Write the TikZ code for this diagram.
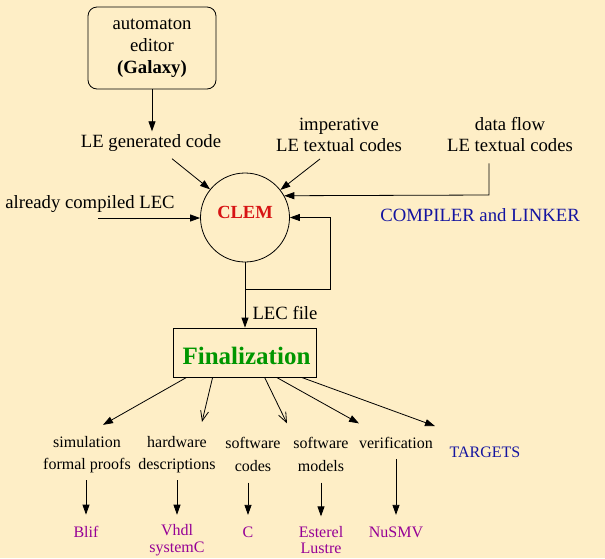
\documentclass[tikz,border=0pt]{standalone}
\usepackage{fontspec}
\setmainfont{Liberation Serif}
\usetikzlibrary{arrows.meta,calc}
\definecolor{bg}{RGB}{254,238,198}
\definecolor{clemred}{RGB}{215,20,20}
\definecolor{fgreen}{RGB}{0,150,0}
\definecolor{navy}{RGB}{20,20,160}
\definecolor{purp}{RGB}{150,0,150}
\begin{document}
\begin{tikzpicture}[x=1pt,y=-1pt,
  txt/.style={inner sep=0pt, align=center, font=\fontsize{18.7}{21}\selectfont},
  small/.style={inner sep=0pt, align=center, font=\fontsize{16}{22.4}\selectfont},
  tgt/.style={inner sep=0pt, align=center, text=purp, font=\fontsize{16}{16.6}\selectfont},
  ln/.style={line width=0.8pt},
  arr/.style={ln, -{Triangle[length=10pt,width=7pt]}},
  oarr/.style={ln, -{Straight Barb[length=10pt,width=8pt]}}]
\fill[bg] (0,0) rectangle (605,558);
\useasboundingbox (0,0) rectangle (605,558);
% nodes
\node[draw, ln, rounded corners=9pt, minimum width=128pt, minimum height=82pt, inner sep=0pt, align=center,
      font=\fontsize{18.7}{22}\selectfont] (gal) at (152,48) {automaton\\editor\\\textbf{(Galaxy)}};
\node[txt] (legen) at (151,143) {LE generated code};
\node[txt] (imp) at (339,135) {imperative\\LE textual codes};
\node[txt] (df) at (510,135) {data flow\\LE textual codes};
\node[txt] (acl) at (90,204) {already compiled LEC};
\node[circle, draw, ln, minimum size=89pt, inner sep=0pt] (clem) at (245,217.5) {};
\node[inner sep=0pt, text=clemred, font=\fontsize{18.5}{20}\selectfont\bfseries] (clemlbl) at (245,212) {CLEM};
\node[txt, text=navy] (comp) at (480,215) {COMPILER and LINKER};
\node[txt] (lec) at (285,313) {LEC file};
\node[draw, ln, minimum width=143pt, minimum height=49pt, inner sep=0pt] (fin) at (244.5,352.5) {};
\node[inner sep=0pt, text=fgreen, font=\fontsize{25}{28}\selectfont\bfseries] (finlbl) at (246.5,356) {Finalization};
\node[small] (sim) at (87,454.5) {simulation\\formal proofs};
\node[small] (hw) at (177,454.5) {hardware\\descriptions};
\node[small] (swc) at (253,454.5) {software\\codes};
\node[small] (swm) at (321,454.5) {software\\models};
\node[small] (ver) at (396,443) {verification};
\node[small, text=navy] (tg) at (485,452) {TARGETS};
\node[tgt] (blif) at (86,532) {Blif};
\node[tgt] (vhdl) at (177,540) {Vhdl\\systemC};
\node[tgt] (c) at (248,532) {C};
\node[tgt] (est) at (321,540) {Esterel\\Lustre};
\node[tgt] (nusmv) at (396,532) {NuSMV};
\coordinate (aclstart) at (98,218);
\coordinate (dfc) at (489,195);
\coordinate (loopB) at (330,289);
% connectors
\draw[arr, shorten >=3pt] (gal.south) -- (gal.south |- legen.north);
\draw[arr] ([shift={(21,7)}]legen.south) -- (clem);
\draw[arr] ([shift={(-19,7)}]imp.south) -- (clem);
\draw[arr] (dfc |- df.south) ++(0,11) -- (dfc) -- (clem.29);
\draw[arr] (aclstart) -- (aclstart -| clem.west);
\draw[arr] (clem.south) |- (loopB) |- (clem.east);
\draw[arr] (clem.south |- loopB) -- (clem.south |- fin.north);
\draw[arr] ([shift={(14,0)}]fin.south west) -- ([shift={(16,-11)}]sim.north);
\draw[oarr] ([shift={(40,0)}]fin.south west) -- ([shift={(25,-14)}]hw.north);
\draw[oarr] ([shift={(92,0)}]fin.south west) -- ([shift={(34,-14)}]swc.north);
\draw[arr] ([shift={(104,0)}]fin.south west) -- ([shift={(38,-14)}]swm.north);
\draw[arr] ([shift={(129,0)}]fin.south west) -- ([shift={(39,-11)}]ver.north);
\draw[arr, shorten <=7pt, shorten >=11.5pt] (blif.north |- sim.south) -- (blif.north);
\draw[arr, shorten <=7pt, shorten >=9.5pt] (vhdl.north |- hw.south) -- (vhdl.north);
\draw[arr, shorten <=11pt, shorten >=11.5pt] (c.north |- swc.south) -- (c.north);
\draw[arr, shorten <=11pt, shorten >=9.5pt] (est.north |- swm.south) -- (est.north);
\draw[arr, shorten <=10pt, shorten >=11.5pt] (nusmv.north |- ver.south) -- (nusmv.north);
\end{tikzpicture}
\end{document}
